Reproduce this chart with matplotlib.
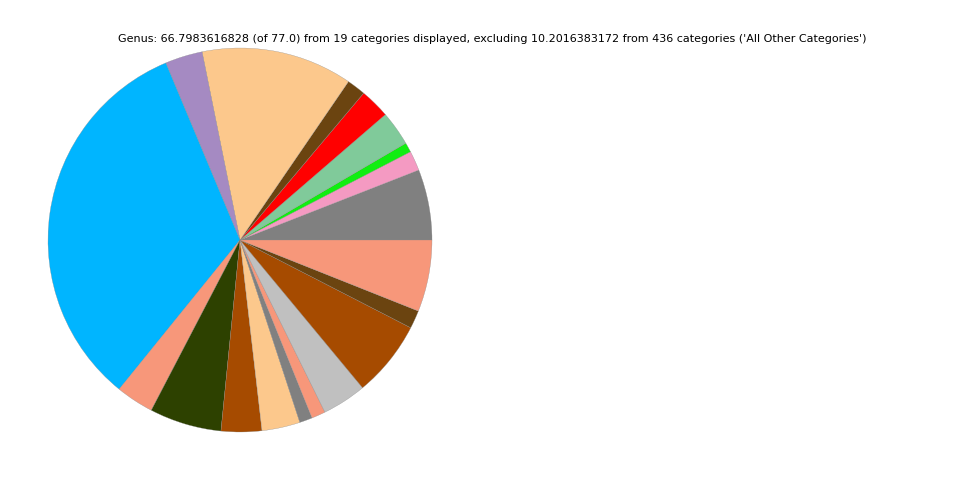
#!/usr/bin/env python3
"""Genus pie chart: 19 displayed categories, counter-clockwise from 0 degrees"""

import matplotlib
matplotlib.use('Agg')
import matplotlib.pyplot as plt

# values (sum ~ 66.798)
genus_values = [3.97, 1.11, 0.54, 1.95, 1.69, 1.06, 8.50, 2.10, 21.95, 2.13,
                4.05, 2.28, 2.15, 0.72, 0.78, 2.49, 4.29, 1.02, 4.03]
genus_colors = ['#808080', '#F49AC2', '#11EE11', '#80CA9A', '#FF0000', '#6B4410',
                '#FCC88C', '#A58AC2', '#00B5FF', '#F7977A', '#2D4100', '#A64B00',
                '#FCC88C', '#808080', '#F7977A', '#C0C0C0', '#A64B00', '#6B4410',
                '#F7977A']
title = ("Genus: 66.7983616828 (of 77.0) from 19 categories displayed, "
         "excluding 10.2016383172 from 436 categories ('All Other Categories')")

fig = plt.figure(figsize=(9.6, 4.8), dpi=100)
ax = fig.add_axes([0.05, 0.1, 0.4, 0.8])
ax.pie(genus_values, colors=genus_colors, startangle=0, counterclock=True,
       wedgeprops={'linewidth': 0.2, 'edgecolor': '#888888'})
ax.set_xlim(-1, 1)
ax.set_ylim(-1, 1)
ax.set_aspect('equal')
ax.axis('off')

fig.text(0.5125, 0.919, title, ha='center', va='center', fontsize=8)

fig.savefig('out.png', dpi=100)
